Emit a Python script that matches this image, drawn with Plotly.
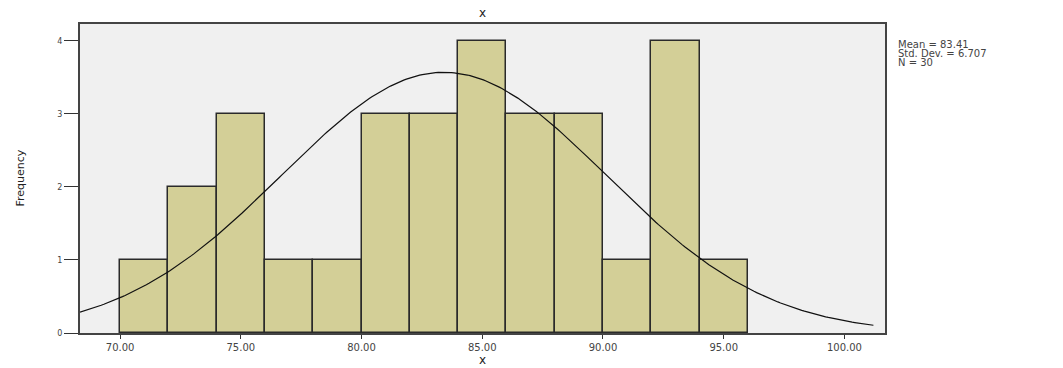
import numpy as np
import plotly.graph_objects as go

bin_edges = [70, 72, 74, 76, 78, 80, 82, 84, 86, 88, 90, 92, 94, 96]
counts = [1, 2, 3, 1, 1, 3, 3, 4, 3, 3, 1, 4, 1]
mean_val = 83.41
sd_val = 6.707
n_val = 30
x_ticks = [70, 75, 80, 85, 90, 95, 100]
x_tick_labels = ["70.00", "75.00", "80.00", "85.00", "90.00", "95.00", "100.00"]
y_ticks = [0, 1, 2, 3, 4]

centers = [(a + b) / 2 for a, b in zip(bin_edges[:-1], bin_edges[1:])]
bw = bin_edges[1] - bin_edges[0]

fig = go.Figure()
fig.add_trace(go.Bar(
    x=centers, y=counts, width=bw,
    marker=dict(color="#D3CF97", line=dict(color="#2a2a2a", width=1.5)),
    showlegend=False,
))
xs = np.linspace(68.34, 101.2, 300)
ys = n_val * bw / (sd_val * np.sqrt(2 * np.pi)) * np.exp(-0.5 * ((xs - mean_val) / sd_val) ** 2)
fig.add_trace(go.Scatter(x=xs, y=ys, mode="lines",
                         line=dict(color="#111111", width=1.2),
                         showlegend=False))

fig.update_layout(
    width=1063, height=368,
    margin=dict(l=80, r=178, t=24, b=35, autoexpand=False),
    paper_bgcolor="white", plot_bgcolor="#F0F0F0",
    bargap=0,
    font=dict(family="DejaVu Sans", size=8, color="#333"),
)
fig.update_xaxes(range=[68.34, 101.68], tickvals=x_ticks, ticktext=x_tick_labels,
                 ticks="outside", ticklen=4, tickcolor="#333", showgrid=False,
                 zeroline=False, showline=True, linecolor="#444", linewidth=2, mirror=True,
                 automargin=False, title=None,
                 tickfont=dict(size=10, color="#444"))
fig.update_yaxes(range=[0, 4.23], tickvals=y_ticks, ticks="outside", ticklen=14,
                 tickcolor="#333", showgrid=False, zeroline=False, showline=True,
                 linecolor="#444", linewidth=2, mirror=True, automargin=False,
                 title=None,
                 tickfont=dict(size=8, color="#444"))
fig.add_annotation(xref="paper", yref="paper", x=0.4994, y=1.0, yshift=11,
                   xanchor="center", yanchor="middle", text="x", showarrow=False,
                   font=dict(family="DejaVu Sans", size=12, color="#222"))
fig.add_annotation(xref="paper", yref="paper", x=0.4994, y=0.0, yshift=-27,
                   xanchor="center", yanchor="middle", text="x", showarrow=False,
                   font=dict(family="DejaVu Sans", size=12, color="#222"))
fig.add_annotation(xref="paper", yref="paper", x=0.0, xshift=-60, y=0.5,
                   xanchor="center", yanchor="middle", text="Frequency", textangle=-90,
                   showarrow=False, font=dict(family="DejaVu Sans", size=11, color="#222"))
stat_lines = [f"Mean = {mean_val:.2f}", f"Std. Dev. = {sd_val:.3f}", f"N = {n_val}"]
for i, line in enumerate(stat_lines):
    fig.add_annotation(
        xref="paper", yref="paper", x=1.0, xshift=11, y=1.0, yshift=-20 - 9 * i,
        xanchor="left", yanchor="middle", text=line, showarrow=False, align="left",
        font=dict(family="DejaVu Sans", size=10, color="#444"),
    )
fig.write_html("out.html", config={"displayModeBar": False},
               post_script="document.body.style.margin='0';")
